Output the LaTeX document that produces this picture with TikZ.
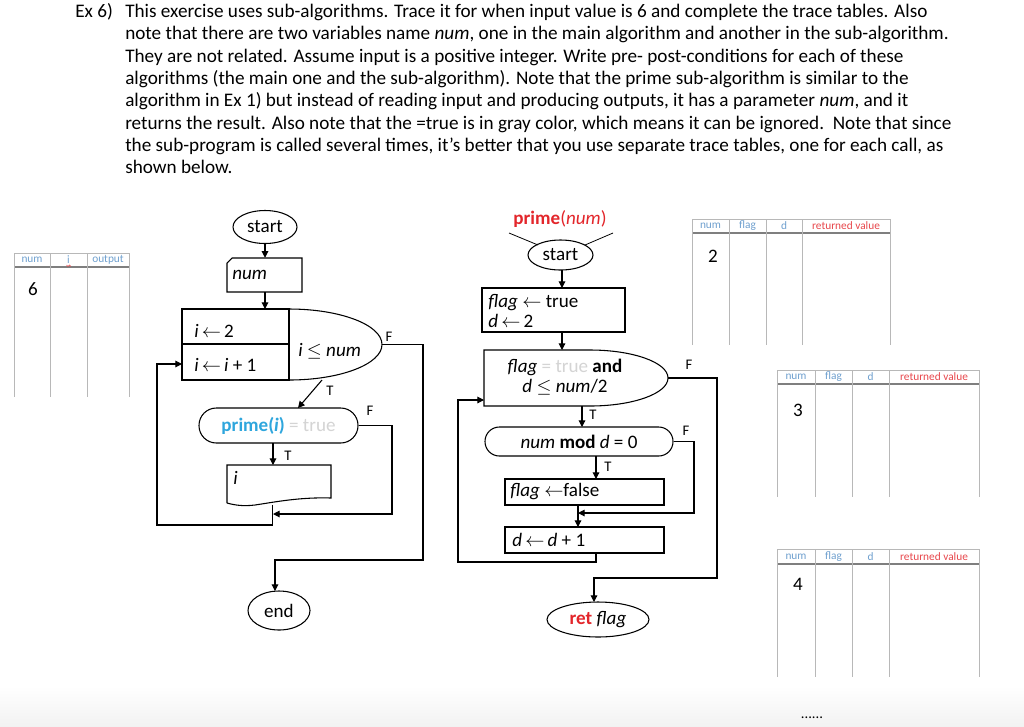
\documentclass[tikz,border=0pt]{standalone}
\usepackage{fontspec}
\setmainfont{Carlito}
\usetikzlibrary{shapes.geometric,arrows.meta,calc}
\definecolor{hblue}{HTML}{6FA0CF}
\definecolor{hred}{HTML}{E8474C}
\definecolor{pblue}{HTML}{2EA6DD}
\definecolor{tgray}{HTML}{D4D4D4}
\definecolor{pred}{HTML}{E3262B}
\definecolor{tline}{HTML}{B8B8B8}
\definecolor{thead}{HTML}{7F7F7F}
\begin{document}
\begin{tikzpicture}[x=0.75pt,y=-0.75pt,
  fc/.style={line width=0.8pt},
  arr/.style={fc,-{Triangle[length=5pt,width=5pt]}},
  body/.style={anchor=base west,inner sep=0,font=\fontsize{14.4}{17}\selectfont},
  ftxt/.style={inner sep=0,font=\fontsize{14.3}{15}\selectfont},
  lbl/.style={inner sep=0,font=\fontsize{11}{13}\selectfont},
  hdr/.style={inner sep=0,font=\fontsize{8.5}{10}\selectfont},
  term/.style={ellipse,draw,fc,inner sep=0,font=\fontsize{14.3}{17}\selectfont},
  stad/.style={rectangle,draw,fc,inner sep=0,font=\fontsize{14.3}{17}\selectfont},
  pbox/.style={rectangle,draw,fc,inner sep=0},
  ghost/.style={rectangle,inner sep=0},
  tl/.style={tline,line width=0.6pt},
  th/.style={thead,line width=0.9pt},
]
\fill[white] (0,0) rectangle (1024,726);
\path[use as bounding box] (0,0) rectangle (1024,726);
\shade[top color=white,bottom color=black!5] (0,686) rectangle (1024,726);

% ---------- body text ----------
\node[body] (ex) at (75,17.5) {Ex 6)};
\node[body] (l1) at (125,17.5) {This exercise uses sub-algorithms. Trace it for when input value is 6 and complete the trace tables. Also};
\node[body] (l2) at (125,39.8) {note that there are two variables name \textit{num}, one in the main algorithm and another in the sub-algorithm.};
\node[body] (l3) at (125,62.1) {They are not related. Assume input is a positive integer. Write pre- post-conditions for each of these};
\node[body] (l4) at (125,84.4) {algorithms (the main one and the sub-algorithm). Note that the prime sub-algorithm is similar to the};
\node[body] (l5) at (125,106.7) {algorithm in Ex 1) but instead of reading input and producing outputs, it has a parameter \textit{num}, and it};
\node[body] (l6) at (125,129) {returns the result. Also note that the =true is in gray color, which means it can be ignored.\ \ Note that since};
\node[body] (l7) at (125,151.3) {the sub-program is called several times, it’s better that you use separate trace tables, one for each call, as};
\node[body] (l8) at (125,173.6) {shown below.};

% ---------- left trace table ----------
\draw[tl] (14,253) -- (129,253);
\draw[th] (14,267) -- (129,267);
\foreach \x in {14,50,87,129} \draw[tl] (\x,253) -- (\x,397);
\node[hdr,text=hblue] (hn0) at (32,260) {num};
\node[hdr,text=hblue] (hi0) at (68.5,260) {i};
\draw[hred,line width=0.3pt] (66.5,265) -- (68,266.5) -- (69.5,265) -- (71,266.5);
\node[hdr,text=hblue] (ho0) at (108,260) {output};
\node[ftxt] (v6) at (33,289) {6};

% ---------- main flowchart ----------
\node[term,minimum width=48pt,minimum height=24.75pt] (start1) at (265,227) {start};

\node[ghost,minimum width=56.25pt,minimum height=25.5pt] (inp) at (264.5,275) {};
\draw[fc] (227,263) -- (232,258) -- (302,258) -- (302,292) -- (227,292) -- cycle;
\node[ftxt,anchor=west] (inptxt) at (232,275) {\textit{num}};

\node[ghost,minimum width=80.25pt,minimum height=53.25pt] (loopbox) at (235.5,344.5) {};
\draw[fc] (289,309) -- (182,309) -- (182,380) -- (289,380) -- cycle;
\draw[fc] (182,344) -- (289,344);
\draw[fc] (289,309) .. controls (340.3,309) and (382,324.9) .. (382,344.5)
                    .. controls (382,364.1) and (340.3,380) .. (289,380);
\node[ftxt,anchor=west] (ini) at (194,331) {\textit{i}\,$\leftarrow$\,2};
\node[ftxt,anchor=west] (inc) at (194,365) {\textit{i}\,$\leftarrow$\,\textit{i} + 1};
\node[ftxt,anchor=west] (cond1) at (298,351) {\textit{i} $\leq$ \textit{num}};
\coordinate (loopR) at (382,344.5);
\coordinate (loopT) at (322,380);
\coordinate (loopIn) at (182,364);
\coordinate (loopTop) at (265,309);

\node[stad,rounded corners=13pt,minimum width=119.25pt,minimum height=26.25pt] (call) at (278.5,425.5)
  {{\color{pblue}\textbf{prime(\textit{i})}}\color{tgray}\ = true};
\coordinate (callIn) at (298,408);
\coordinate (callS) at (273,443);

\node[ghost,minimum width=78pt,minimum height=28.5pt] (outp) at (279,484) {};
\draw[fc] (227,503) -- (227,465) -- (331,465) -- (331,498)
  .. controls (300,497) and (275,502) .. (255,505) .. controls (243,506.5) and (234,505) .. (227,503);
\node[ftxt,anchor=west] (outtxt) at (233,478) {\textit{i}};
\coordinate (outN) at (273,465);
\coordinate (outS) at (272.7,504.5);
\coordinate (join1) at (273,514);

\node[term,minimum width=46.5pt,minimum height=29.25pt] (end1) at (279,610.5) {end};
\coordinate (endN) at (275,591);

\draw[arr] (start1.south) -- (start1.south |- inp.north);
\draw[arr] (inp.south -| start1.south) -- (loopTop);
\draw[arr] (loopT) -- (callIn);
\draw[arr] (loopR) -| (423,560) -| (endN);
\draw[arr] (call.east) -| (392,514) -- (join1);
\draw[arr] (callS) -- (outN);
\draw[arr] (outS) -- (272.7,525) -- (157,525) -- (157,364) -- (loopIn);

\node[lbl] (T1) at (330,391) {T};
\node[lbl] (F1) at (389,337) {F};
\node[lbl] (F2) at (370,411) {F};
\node[lbl] (T2) at (288,456) {T};

% ---------- sub-algorithm flowchart ----------
\node[ftxt,text=pred] (title) at (560,219) {\textbf{prime}(\textit{num})};
\draw[fc,line width=0.6pt] (509,233) -- (538,245);
\draw[fc,line width=0.6pt] (613,233) -- (585,245);
\node[term,minimum width=48.75pt,minimum height=22.5pt] (start2) at (560.5,255) {start};

\node[pbox,minimum width=107.25pt,minimum height=33pt] (init) at (553.5,310) {};
\node[ftxt,anchor=west,align=left] (inittxt) at (488,310.5) {\textit{flag} $\leftarrow$ true\\\textit{d}\,$\leftarrow$\,2};

\node[ghost,minimum width=138pt,minimum height=42pt] (dec) at (576,378) {};
\draw[fc] (590,350) -- (484,350) -- (484,406) -- (590,406)
   .. controls (633,406) and (668,393.5) .. (668,378)
   .. controls (668,362.5) and (633,350) .. (590,350);
\node[ftxt,align=center] (dectxt) at (565,377) {\textit{flag} {\color{tgray}= true} \textbf{and}\\\textit{d} $\leq$ \textit{num}/2};
\coordinate (decR) at (668,378);
\coordinate (decIn) at (484,400);

\node[stad,rounded corners=10.8pt,minimum width=141pt,minimum height=21.75pt] (mod) at (579,441.5)
  {\textit{num} \textbf{mod} \textit{d} = 0};

\node[pbox,minimum width=119.25pt,minimum height=19.5pt] (setf) at (584.5,492) {};
\node[ftxt,anchor=west] (setftxt) at (510,492) {\textit{flag} $\leftarrow$false};
\node[pbox,minimum width=119.25pt,minimum height=19.5pt] (incd) at (584.5,540) {};
\node[ftxt,anchor=west] (incdtxt) at (512,540) {\textit{d}\,$\leftarrow$\,\textit{d} + 1};
\coordinate (join2) at (578,513);

\node[term,minimum width=76.5pt,minimum height=26.25pt] (ret) at (598,619.5)
  {{\color{pred}\textbf{ret}} \textit{flag}};

\draw[arr] (562,270) -- (562,288);
\draw[arr] (562,332) -- (562,350);
\draw[arr] (582,406) -- (582,427);
\draw[arr] (decR) -| (717,578) -| (594,602);
\draw[arr] (596,456) -- (596,479);
\draw[arr] (mod.east) -| (694,513) -- (join2);
\draw[arr] (578,505) -- (578,527);
\draw[arr] (596,553) -- (596,562) -- (458,562) -- (458,400) -- (decIn);

\node[lbl] (T3) at (593,415) {T};
\node[lbl] (F3) at (689,365) {F};
\node[lbl] (F4) at (686,431) {F};
\node[lbl] (T4) at (608,467) {T};

% ---------- right trace tables ----------
\draw[tl] (692,219) -- (890,219);
\draw[th] (692,233) -- (890,233);
\foreach \x in {692,729,766,802,890} \draw[tl] (\x,219) -- (\x,345);
\node[hdr,text=hblue] (ha1) at (710.5,226) {num};
\node[hdr,text=hblue] (hb1) at (747.5,226) {flag};
\node[hdr,text=hblue] (hc1) at (784,226) {d};
\node[hdr,text=hred] (hd1) at (846,226) {returned value};
\node[ftxt] (v2) at (713,256) {2};

\draw[tl] (777,370) -- (979,370);
\draw[th] (777,384) -- (979,384);
\foreach \x in {777,815,852,889,979} \draw[tl] (\x,370) -- (\x,497);
\node[hdr,text=hblue] (ha2) at (796,377) {num};
\node[hdr,text=hblue] (hb2) at (833.5,377) {flag};
\node[hdr,text=hblue] (hc2) at (870.5,377) {d};
\node[hdr,text=hred] (hd2) at (934,377) {returned value};
\node[ftxt] (v3) at (798,410) {3};

\draw[tl] (777,549) -- (979,549);
\draw[th] (777,564) -- (979,564);
\foreach \x in {777,815,852,889,979} \draw[tl] (\x,549) -- (\x,677);
\node[hdr,text=hblue] (ha3) at (796,556.5) {num};
\node[hdr,text=hblue] (hb3) at (833.5,556.5) {flag};
\node[hdr,text=hblue] (hc3) at (870.5,556.5) {d};
\node[hdr,text=hred] (hd3) at (934,556.5) {returned value};
\node[ftxt] (v4) at (798,584) {4};

\node[lbl] (dots) at (812,718) {......};
\end{tikzpicture}
\end{document}
